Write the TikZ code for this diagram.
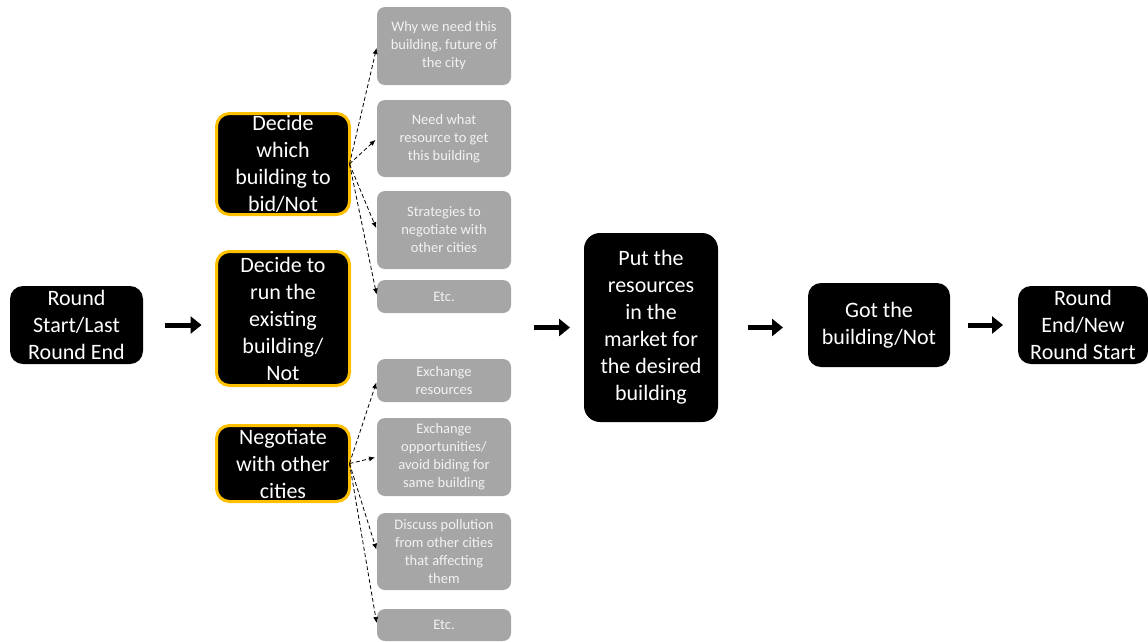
\documentclass[tikz,border=0pt]{standalone}
\usepackage{fontspec}
\setmainfont{Carlito}
\usetikzlibrary{arrows.meta}
\definecolor{boxgray}{HTML}{A6A6A6}
\definecolor{txtgray}{HTML}{F2F2F2}
\definecolor{gold}{HTML}{FFC000}
\tikzset{
  mainbox/.style={fill=black, rounded corners=13pt, inner sep=0pt, outer sep=0pt, align=center,
    text=white, font=\fontsize{22}{27}\selectfont},
  decbox/.style={mainbox, draw=gold, line width=3pt},
  graybox/.style={fill=boxgray, rounded corners=8pt, inner sep=0pt, outer sep=0pt, align=center,
    text=txtgray, font=\fontsize{14.5}{18}\selectfont, minimum width=134pt},
  bigarrow/.style={line width=5pt, -{Triangle[length=11pt,width=17pt]}},
  dasharrow/.style={line width=0.8pt, dash pattern=on 4pt off 2.5pt, -{Latex[length=6pt,width=5pt]}, shorten >=2pt}
}
\begin{document}
\begin{tikzpicture}[x=1pt,y=-1pt]
\useasboundingbox (0,0) rectangle (1148,641);
\node[mainbox, minimum width=133pt, minimum height=78pt] (start) at (76.5,325) {Round\\Start/Last\\Round End};
\node[decbox, minimum width=133pt, minimum height=101pt] (d1) at (283,164) {Decide\\which\\building to\\bid/Not};
\node[decbox, minimum width=133pt, minimum height=134pt] (d2) at (283,318.5) {Decide to\\run the\\existing\\building/\\Not};
\node[decbox, minimum width=133pt, minimum height=76pt] (d3) at (283,463.5) {Negotiate\\with other\\cities};

\node[graybox, minimum height=78pt] (g1) at (444,46) {Why we need this\\building, future of\\the city};
\node[graybox, minimum height=77pt] (g2) at (444,138.5) {Need what\\resource to get\\this building};
\node[graybox, minimum height=78pt] (g3) at (444,230) {Strategies to\\negotiate with\\other cities};
\node[graybox, minimum height=33pt] (g4) at (444,296.5) {Etc.};
\node[graybox, minimum height=43pt] (g5) at (444,380.5) {Exchange\\resources};
\node[graybox, minimum height=78pt] (g6) at (444,457) {Exchange\\opportunities/\\avoid biding for\\same building};
\node[graybox, minimum height=77pt] (g7) at (444,551.5) {Discuss pollution\\from other cities\\that affecting\\them};
\node[graybox, minimum height=32pt] (g8) at (444,625) {Etc.};

\node[mainbox, minimum width=134pt, minimum height=189pt, rounded corners=16pt] (put) at (651,327.5) {Put the\\resources\\in the\\market for\\the desired\\building};
\node[mainbox, minimum width=142pt, minimum height=84pt] (got) at (879,325) {Got the\\building/Not};
\node[mainbox, minimum width=130pt, minimum height=78pt] (end) at (1083,325) {Round\\End/New\\Round Start};

\draw[bigarrow, shorten <=22pt, shorten >=15pt] (start.east) -- (start.east -| d2.west);
\draw[bigarrow, shorten <=184pt, shorten >=14pt] (put.west -| d2.east) -- (put.west);
\draw[bigarrow, shorten <=30pt, shorten >=25pt] (put.east) -- (put.east -| got.west);
\draw[bigarrow, shorten <=18pt, shorten >=15pt] (got.east) -- (got.east -| end.west);

\foreach \g in {g1,g2,g3,g4} \draw[dasharrow] (d1.east) -- (\g.west);
\foreach \g in {g5,g6,g7,g8} \draw[dasharrow] (d3.east) -- (\g.west);
\end{tikzpicture}
\end{document}
